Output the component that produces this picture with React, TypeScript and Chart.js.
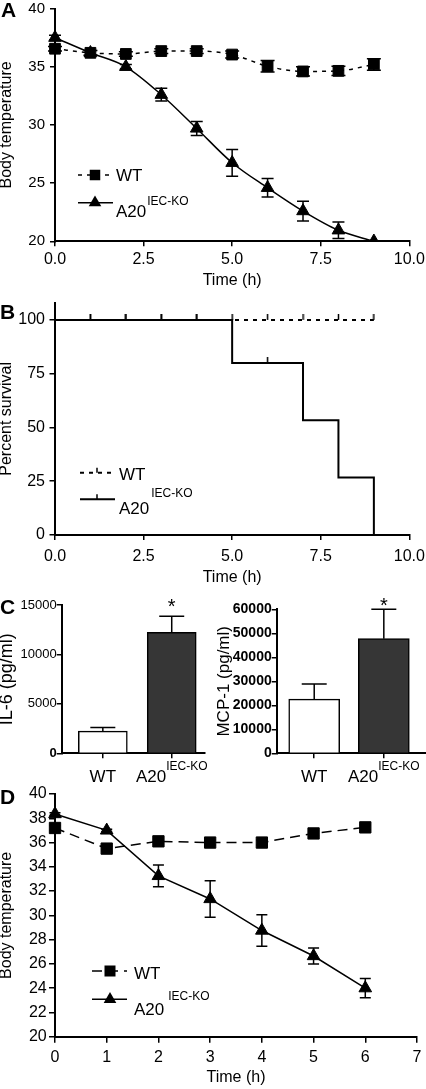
import React, { useEffect, useRef } from 'react';
import { Chart, registerables } from 'chart.js';

Chart.register(...registerables);

const FONT = '"Liberation Sans", Arial, Helvetica, sans-serif';
Chart.defaults.font.family = FONT;
Chart.defaults.color = '#000';

// ---------------- Data ----------------
// Panel A: body temperature over time
const timeA = [0, 1, 2, 3, 4, 5, 6, 7, 8, 9];
const wtTempA = [36.55, 36.2, 36.1, 36.35, 36.35, 36.05, 35.05, 34.6, 34.65, 35.2];
const wtErrA = [0.2, 0.2, 0.2, 0.2, 0.2, 0.3, 0.5, 0.4, 0.4, 0.5];
const koTempA = [37.5, 36.2, 35.0, 32.6, 29.7, 26.75, 24.6, 22.6, 20.95, 20.0];
const koErrA = [0.2, 0.2, 0.2, 0.55, 0.6, 1.15, 0.8, 0.85, 0.7, 0];

// Panel B: Kaplan-Meier survival
const timeB = [0, 1, 2, 3, 4, 5, 6, 7, 8, 9];
const wtSurvB = [100, 100, 100, 100, 100, 100, 100, 100, 100, 100];
const wtCensB = [0, 1, 1, 1, 1, 1, 1, 1, 1, 1];
const koSurvB = [100, 100, 100, 100, 100, 80, 80, 53.3, 26.7, 0];
const koCensB = [0, 1, 1, 1, 1, 0, 1, 0, 0, 0];

// Panel C: cytokines
const groupsC = ['WT', 'A20'];
const groupSupC = ['', 'IEC-KO'];
const il6 = [2250, 12240];
const il6Err = [370, 1610];
const il6Sig = ['', '*'];
const mcp1 = [22600, 47750];
const mcp1Err = [6300, 12250];
const mcp1Sig = ['', '*'];

// Panel D: body temperature (second experiment)
const timeD = [0, 1, 2, 3, 4, 5, 6];
const wtTempD = [37.2, 35.5, 36.1, 36.0, 36.0, 36.75, 37.25];
const wtErrD = [0.2, 0.2, 0.2, 0.2, 0.2, 0.2, 0.2];
const koTempD = [38.35, 37.0, 33.25, 31.35, 28.75, 26.65, 24.0];
const koErrD = [0.1, 0.1, 0.9, 1.5, 1.3, 0.65, 0.8];

// ---------------- Helpers ----------------
type Rect = { left: number; top: number; width: number; height: number };

function axisFit(dim: 'width' | 'height', size: number) {
  return (scale: any) => {
    scale[dim] = size;
    scale.paddingLeft = 0;
    scale.paddingRight = 0;
    scale.paddingTop = 0;
    scale.paddingBottom = 0;
  };
}

const axisBorder = { display: true, color: '#000', width: 2 };
function gridTicks(len: number) {
  return {
    display: true,
    drawOnChartArea: false,
    drawTicks: true,
    tickLength: len,
    color: '#000',
    lineWidth: 1.5,
    offset: false,
  };
}

const noClipBottom = { left: false, top: false, right: false, bottom: 0 };

const errorBarPlugin = {
  id: 'errorBars',
  afterDatasetsDraw(chart: any) {
    const ctx = chart.ctx;
    chart.data.datasets.forEach((ds: any, di: number) => {
      if (!ds.errors) return;
      const meta = chart.getDatasetMeta(di);
      const yScale = chart.scales[meta.yAxisID];
      ctx.save();
      ctx.strokeStyle = '#000';
      ctx.lineWidth = 1.5;
      meta.data.forEach((el: any, i: number) => {
        const e = ds.errors[i];
        const v = ds.data[i].y;
        const x = el.x;
        const yTop = yScale.getPixelForValue(v + e);
        if (e > 0) {
          const yBot = ds.errorMode === 'up' ? yScale.getPixelForValue(v) : yScale.getPixelForValue(v - e);
          const cap = ds.errorCap;
          ctx.beginPath();
          ctx.moveTo(x, yTop);
          ctx.lineTo(x, yBot);
          ctx.moveTo(x - cap, yTop);
          ctx.lineTo(x + cap, yTop);
          if (ds.errorMode !== 'up') {
            ctx.moveTo(x - cap, yBot);
            ctx.lineTo(x + cap, yBot);
          }
          ctx.stroke();
        }
        if (ds.marks && ds.marks[i]) {
          ctx.fillStyle = '#000';
          ctx.font = `20px ${FONT}`;
          ctx.textAlign = 'center';
          ctx.textBaseline = 'alphabetic';
          ctx.fillText(ds.marks[i], x, yTop + ds.markDy);
        }
      });
      ctx.restore();
    });
  },
};

type LegendRow = {
  y: number;
  dash: number[];
  marker: 'rect' | 'triangle' | 'tick';
  size: number;
  label: string;
  sup?: string;
  textDy: number;
  supDy?: number;
};
type LegendCfg = {
  x0: number;
  x1: number;
  markerX: number;
  textX: number;
  font: number;
  supFont: number;
  supGap: number;
  lineWidth: number;
  rows: LegendRow[];
};

function drawMarker(ctx: CanvasRenderingContext2D, kind: string, x: number, y: number, size: number) {
  ctx.fillStyle = '#000';
  ctx.strokeStyle = '#000';
  if (kind === 'rect') {
    ctx.fillRect(x - size / 2, y - size / 2, size, size);
  } else if (kind === 'triangle') {
    const r = size;
    ctx.beginPath();
    ctx.moveTo(x, y - r);
    ctx.lineTo(x + r * 0.866, y + r / 2);
    ctx.lineTo(x - r * 0.866, y + r / 2);
    ctx.closePath();
    ctx.fill();
  } else if (kind === 'tick') {
    ctx.lineWidth = 1.5;
    ctx.beginPath();
    ctx.moveTo(x, y - size);
    ctx.lineTo(x, y);
    ctx.stroke();
  }
}

function legendPlugin(cfg: LegendCfg) {
  return {
    id: 'customLegend',
    afterDraw(chart: any) {
      const ctx: CanvasRenderingContext2D = chart.ctx;
      ctx.save();
      cfg.rows.forEach((r) => {
        ctx.strokeStyle = '#000';
        ctx.lineWidth = cfg.lineWidth;
        ctx.setLineDash(r.dash);
        ctx.beginPath();
        ctx.moveTo(cfg.x0, r.y);
        ctx.lineTo(cfg.x1, r.y);
        ctx.stroke();
        ctx.setLineDash([]);
        drawMarker(ctx, r.marker, cfg.markerX, r.y, r.size);
        ctx.fillStyle = '#000';
        ctx.textAlign = 'left';
        ctx.textBaseline = 'alphabetic';
        ctx.font = `${cfg.font}px ${FONT}`;
        ctx.fillText(r.label, cfg.textX, r.y + r.textDy);
        if (r.sup) {
          const w = ctx.measureText(r.label).width;
          ctx.font = `${cfg.supFont}px ${FONT}`;
          ctx.fillText(r.sup, cfg.textX + w + cfg.supGap, r.y + (r.supDy || 0));
        }
      });
      ctx.restore();
    },
  };
}

function categoryLabelPlugin(labels: string[], sups: string[], mainDy: number, supDy: number) {
  return {
    id: 'catLabels',
    afterDraw(chart: any) {
      const ctx: CanvasRenderingContext2D = chart.ctx;
      const xs = chart.scales.x;
      const axisY = chart.chartArea.bottom;
      ctx.save();
      ctx.fillStyle = '#000';
      ctx.textBaseline = 'alphabetic';
      ctx.textAlign = 'left';
      labels.forEach((lab, i) => {
        const cx = xs.getPixelForValue(i + 1);
        ctx.font = `17px ${FONT}`;
        const mw = ctx.measureText(lab).width;
        ctx.font = `12px ${FONT}`;
        const sw = sups[i] ? ctx.measureText(sups[i]).width : 0;
        const start = cx - (mw + sw) / 2;
        ctx.font = `17px ${FONT}`;
        ctx.fillText(lab, start, axisY + mainDy);
        if (sups[i]) {
          ctx.font = `12px ${FONT}`;
          ctx.fillText(sups[i], start + mw, axisY + supDy);
        }
      });
      ctx.restore();
    },
  };
}

function makeTickMark(): HTMLCanvasElement {
  const c = document.createElement('canvas');
  c.width = 3;
  c.height = 12;
  const g = c.getContext('2d')!;
  g.fillStyle = '#000';
  g.fillRect(0.75, 0, 1.5, 6);
  return c;
}

const baseOptions = {
  responsive: false,
  animation: false,
  devicePixelRatio: 1,
  events: [],
};
const noPlugins = { legend: { display: false }, tooltip: { enabled: false } };

// ---------------- Panel A ----------------
const A_RECT: Rect = { left: 0, top: 0, width: 426, height: 290 };
function configA() {
  return {
    type: 'line',
    data: {
      datasets: [
        {
          label: 'A20 IEC-KO',
          data: timeA.map((x, i) => ({ x, y: koTempA[i] })),
          errors: koErrA,
          errorMode: 'both',
          errorCap: 6,
          borderColor: '#000',
          borderWidth: 1.5,
          pointStyle: 'triangle',
          pointRadius: 7.3,
          pointBackgroundColor: '#000',
          pointBorderColor: '#000',
          pointBorderWidth: 1,
          cubicInterpolationMode: 'monotone',
          clip: noClipBottom,
        },
        {
          label: 'WT',
          data: timeA.map((x, i) => ({ x, y: wtTempA[i] })),
          errors: wtErrA,
          errorMode: 'both',
          errorCap: 7,
          borderColor: '#000',
          borderWidth: 1.5,
          borderDash: [4, 5],
          pointStyle: 'rect',
          pointRadius: 7.6,
          pointBackgroundColor: '#000',
          pointBorderColor: '#000',
          pointBorderWidth: 1,
          cubicInterpolationMode: 'monotone',
          clip: noClipBottom,
        },
      ],
    },
    options: {
      ...baseOptions,
      layout: { padding: { left: 0, top: 6, right: 16.7, bottom: 0 } },
      plugins: noPlugins,
      scales: {
        x: {
          type: 'linear',
          min: 0,
          max: 10,
          afterFit: axisFit('height', 48.7),
          border: axisBorder,
          grid: gridTicks(5),
          ticks: {
            stepSize: 2.5,
            autoSkip: false,
            maxRotation: 0,
            padding: 3.8,
            font: { size: 16 },
            callback: (v: any) => Number(v).toFixed(1),
          },
          title: { display: true, text: 'Time (h)', font: { size: 16, lineHeight: 1 }, padding: { top: 0, bottom: 1 } },
        },
        y: {
          min: 20,
          max: 40,
          afterFit: axisFit('width', 55),
          border: axisBorder,
          grid: gridTicks(5),
          ticks: { stepSize: 5, padding: 5, font: { size: 15 } },
          title: { display: true, text: 'Body temperature', font: { size: 16, lineHeight: 0.875 }, padding: 0 },
        },
      },
    },
    plugins: [
      errorBarPlugin,
      legendPlugin({
        x0: 78,
        x1: 113,
        markerX: 95,
        textX: 116,
        font: 17,
        supFont: 12,
        supGap: 1,
        lineWidth: 1.5,
        rows: [
          { y: 175, dash: [4, 5], marker: 'rect', size: 10.5, label: 'WT', textDy: 5.5 },
          { y: 202.7, dash: [], marker: 'triangle', size: 7.3, label: 'A20', sup: 'IEC-KO', textDy: 14, supDy: 2.3 },
        ],
      }),
    ],
  };
}

// ---------------- Panel B ----------------
const B_RECT: Rect = { left: 0, top: 290, width: 426, height: 295 };
function configB() {
  const tick = makeTickMark();
  return {
    type: 'line',
    data: {
      datasets: [
        {
          label: 'A20 IEC-KO',
          data: timeB.map((x, i) => ({ x, y: koSurvB[i] })),
          stepped: true,
          borderColor: '#000',
          borderWidth: 2,
          pointStyle: tick,
          pointRadius: koCensB.map((c) => (c ? 3 : 0)),
          clip: false,
        },
        {
          label: 'WT',
          data: timeB.map((x, i) => ({ x, y: wtSurvB[i] })),
          stepped: true,
          borderColor: '#000',
          borderWidth: 2,
          borderDash: [4, 5],
          pointStyle: tick,
          pointRadius: wtCensB.map((c) => (c ? 3 : 0)),
          clip: false,
        },
      ],
    },
    options: {
      ...baseOptions,
      layout: { padding: { left: 0, top: 12.7, right: 16.7, bottom: 0 } },
      plugins: noPlugins,
      scales: {
        x: {
          type: 'linear',
          min: 0,
          max: 10,
          afterFit: axisFit('height', 50),
          border: axisBorder,
          grid: gridTicks(5),
          ticks: {
            stepSize: 2.5,
            autoSkip: false,
            maxRotation: 0,
            padding: 7,
            font: { size: 16 },
            callback: (v: any) => Number(v).toFixed(1),
          },
          title: { display: true, text: 'Time (h)', font: { size: 16, lineHeight: 0.875 }, padding: 0 },
        },
        y: {
          min: 0,
          max: 108,
          afterFit: axisFit('width', 55),
          border: axisBorder,
          grid: gridTicks(5.5),
          ticks: { stepSize: 25, includeBounds: false, padding: 4.5, font: { size: 16 } },
          title: { display: true, text: 'Percent survival', font: { size: 16, lineHeight: 0.875 }, padding: 0 },
        },
      },
    },
    plugins: [
      legendPlugin({
        x0: 80,
        x1: 115,
        markerX: 97,
        textX: 119,
        font: 17,
        supFont: 12,
        supGap: 2,
        lineWidth: 2,
        rows: [
          { y: 182.7, dash: [4, 5], marker: 'tick', size: 5, label: 'WT', textDy: 7.3 },
          { y: 209.3, dash: [], marker: 'tick', size: 5, label: 'A20', sup: 'IEC-KO', textDy: 14.7, supDy: -2.6 },
        ],
      }),
    ],
  };
}

// ---------------- Panel C ----------------
const C1_RECT: Rect = { left: 0, top: 585, width: 213, height: 205 };
const C2_RECT: Rect = { left: 213, top: 585, width: 213, height: 205 };

function barConfig(o: {
  values: number[];
  errors: number[];
  marks: string[];
  markDy: number;
  xMin: number;
  xMax: number;
  thickness: number;
  padTop: number;
  padRight: number;
  yWidth: number;
  yMax: number;
  yStep: number;
  tickFont: (ctx: any) => any;
  title: string;
  titleSize: number;
  titleLH: number;
  titlePad: number;
}) {
  return {
    type: 'bar',
    data: {
      datasets: [
        {
          data: o.values.map((y, i) => ({ x: i + 1, y })),
          errors: o.errors,
          errorMode: 'up',
          errorCap: 12.5,
          marks: o.marks,
          markDy: o.markDy,
          backgroundColor: ['#ffffff', '#363636'],
          borderColor: '#000',
          borderWidth: 1.5,
          barThickness: o.thickness,
        },
      ],
    },
    options: {
      ...baseOptions,
      layout: { padding: { left: 0, top: o.padTop, right: o.padRight, bottom: 0 } },
      plugins: noPlugins,
      scales: {
        x: {
          type: 'linear',
          offset: false,
          min: o.xMin,
          max: o.xMax,
          afterFit: axisFit('height', 36.7),
          afterBuildTicks: (s: any) => {
            s.ticks = groupsC.map((_, i) => ({ value: i + 1 }));
          },
          border: axisBorder,
          grid: gridTicks(5),
          ticks: { display: false },
        },
        y: {
          min: 0,
          max: o.yMax,
          afterFit: axisFit('width', o.yWidth),
          border: axisBorder,
          grid: gridTicks(5),
          ticks: { stepSize: o.yStep, padding: 0, font: o.tickFont, callback: (v: any) => String(v) },
          title: {
            display: true,
            text: o.title,
            font: { size: o.titleSize, lineHeight: o.titleLH },
            padding: { top: o.titlePad, bottom: 0 },
          },
        },
      },
    },
    plugins: [errorBarPlugin, categoryLabelPlugin(groupsC, groupSupC, 28.4, 16.7)],
  };
}

function configC1() {
  return barConfig({
    values: il6,
    errors: il6Err,
    marks: il6Sig,
    markDy: -3,
    xMin: 0.403,
    xMax: 2.483,
    thickness: 49,
    padTop: 20,
    padRight: 8,
    yWidth: 61.7,
    yMax: 15000,
    yStep: 5000,
    tickFont: (ctx: any) => ({ size: 13, weight: ctx.tick && ctx.tick.value === 0 ? 'bold' : 'normal' }),
    title: 'IL-6 (pg/ml)',
    titleSize: 18,
    titleLH: 0.8,
    titlePad: 0,
  });
}

function configC2() {
  return barConfig({
    values: mcp1,
    errors: mcp1Err,
    marks: mcp1Sig,
    markDy: 3,
    xMin: 0.461,
    xMax: 2.606,
    thickness: 51,
    padTop: 24.3,
    padRight: 0,
    yWidth: 63.7,
    yMax: 60000,
    yStep: 10000,
    tickFont: () => ({ size: 14, weight: 'bold' }),
    title: 'MCP-1 (pg/ml)',
    titleSize: 17,
    titleLH: 1,
    titlePad: 2.5,
  });
}

// ---------------- Panel D ----------------
const D_RECT: Rect = { left: 0, top: 785, width: 426, height: 304 };
function configD() {
  return {
    type: 'line',
    data: {
      datasets: [
        {
          label: 'A20 IEC-KO',
          data: timeD.map((x, i) => ({ x, y: koTempD[i] })),
          errors: koErrD,
          errorMode: 'both',
          errorCap: 5.5,
          borderColor: '#000',
          borderWidth: 1.5,
          pointStyle: 'triangle',
          pointRadius: 7.3,
          pointBackgroundColor: '#000',
          pointBorderColor: '#000',
          pointBorderWidth: 1,
          tension: 0,
          clip: noClipBottom,
        },
        {
          label: 'WT',
          data: timeD.map((x, i) => ({ x, y: wtTempD[i] })),
          errors: wtErrD,
          errorMode: 'both',
          errorCap: 5.5,
          borderColor: '#000',
          borderWidth: 1.5,
          borderDash: [10, 6],
          pointStyle: 'rect',
          pointRadius: 8,
          pointBackgroundColor: '#000',
          pointBorderColor: '#000',
          pointBorderWidth: 1,
          tension: 0,
          clip: noClipBottom,
        },
      ],
    },
    options: {
      ...baseOptions,
      layout: { padding: { left: 0, top: 7.7, right: 4.3, bottom: 0 } },
      plugins: noPlugins,
      scales: {
        x: {
          type: 'linear',
          min: 0,
          max: 7,
          afterFit: axisFit('height', 52.3),
          border: axisBorder,
          grid: gridTicks(6),
          ticks: { stepSize: 1, autoSkip: false, maxRotation: 0, padding: 5.7, font: { size: 16 } },
          title: { display: true, text: 'Time (h)', font: { size: 16, lineHeight: 1 }, padding: { top: 0, bottom: 3 } },
        },
        y: {
          min: 20,
          max: 40,
          afterFit: axisFit('width', 55),
          border: axisBorder,
          grid: gridTicks(6),
          ticks: { stepSize: 2, padding: 2.3, font: { size: 16 } },
          title: { display: true, text: 'Body temperature', font: { size: 16, lineHeight: 0.875 }, padding: 0 },
        },
      },
    },
    plugins: [
      errorBarPlugin,
      legendPlugin({
        x0: 92,
        x1: 127,
        markerX: 110,
        textX: 134,
        font: 17,
        supFont: 12,
        supGap: 4,
        lineWidth: 1.5,
        rows: [
          { y: 186, dash: [10, 6], marker: 'rect', size: 11, label: 'WT', textDy: 8 },
          { y: 214.3, dash: [], marker: 'triangle', size: 7.3, label: 'A20', sup: 'IEC-KO', textDy: 15.7, supDy: 0.7 },
        ],
      }),
    ],
  };
}

// ---------------- Components ----------------
function ChartBox({ rect, build }: { rect: Rect; build: () => any }) {
  const ref = useRef<HTMLCanvasElement | null>(null);
  useEffect(() => {
    if (!ref.current) return;
    const chart = new Chart(ref.current, build());
    return () => chart.destroy();
  }, []);
  return (
    <canvas
      ref={ref}
      width={rect.width}
      height={rect.height}
      style={{ position: 'absolute', left: rect.left, top: rect.top, width: rect.width, height: rect.height }}
    />
  );
}

function PanelLetter({ text, left, top }: { text: string; left: number; top: number }) {
  return (
    <div
      style={{
        position: 'absolute',
        left,
        top,
        fontFamily: FONT,
        fontWeight: 'bold',
        fontSize: 21,
        lineHeight: '21px',
        color: '#000',
      }}
    >
      {text}
    </div>
  );
}

export default function App() {
  return (
    <div
      style={{
        position: 'absolute',
        left: 0,
        top: 0,
        width: 426,
        height: 1089,
        background: '#fff',
        overflow: 'hidden',
      }}
    >
      <ChartBox rect={A_RECT} build={configA} />
      <ChartBox rect={B_RECT} build={configB} />
      <ChartBox rect={C1_RECT} build={configC1} />
      <ChartBox rect={C2_RECT} build={configC2} />
      <ChartBox rect={D_RECT} build={configD} />
      <PanelLetter text="A" left={1} top={-1} />
      <PanelLetter text="B" left={0} top={300.6} />
      <PanelLetter text="C" left={0} top={595.6} />
      <PanelLetter text="D" left={0} top={786} />
    </div>
  );
}
